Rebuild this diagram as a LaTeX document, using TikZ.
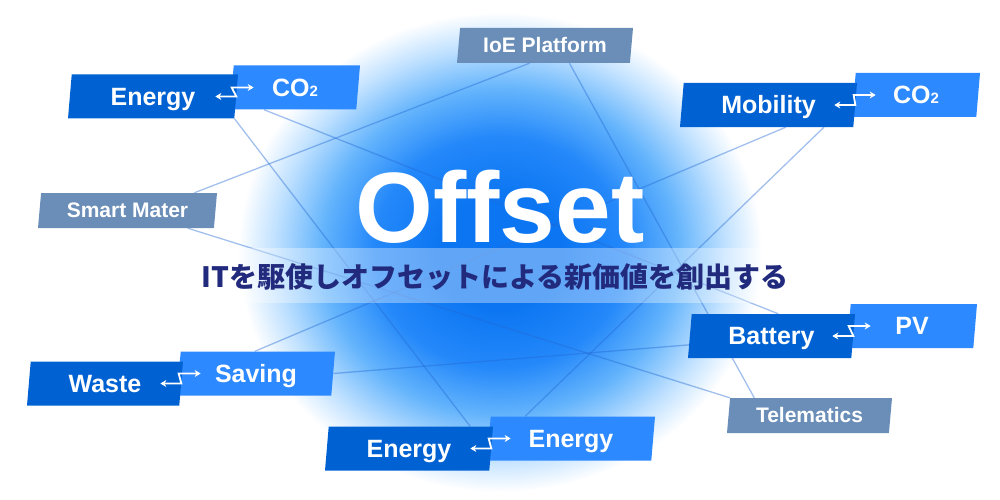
\documentclass[tikz,border=0pt]{standalone}
\usepackage{fontspec}
\setmainfont{Liberation Sans}
\newfontfamily\jpfont{Noto Sans CJK JP}
\usetikzlibrary{shapes.geometric,arrows.meta,calc}
\definecolor{hubblue}{RGB}{0,98,210}
\definecolor{spokeblue}{RGB}{45,137,255}
\definecolor{tagblue}{RGB}{106,142,184}
\definecolor{glowblue}{RGB}{12,118,242}
\definecolor{glowdeep}{RGB}{36,136,250}
\definecolor{glowmid}{RGB}{100,180,252}
\definecolor{glowpale}{RGB}{192,225,255}
\definecolor{inkblue}{RGB}{33,42,124}
\definecolor{linkblue}{RGB}{35,105,212}
\pgfdeclareradialshading{halo}{\pgfpoint{0bp}{0bp}}{color(0bp)=(glowblue); color(6bp)=(glowblue); color(12bp)=(glowdeep); color(17bp)=(glowmid); color(21.5bp)=(glowpale); color(25bp)=(white); color(50bp)=(white)}
\pgfdeclarelayer{halo}
\pgfdeclarelayer{links}
\pgfsetlayers{halo,links,main}

\begin{document}
\begin{tikzpicture}[x=1pt,y=-1pt,
	tile/.style={trapezium,trapezium left angle=78,trapezium right angle=102,trapezium stretches body,inner sep=0pt,minimum height=44pt,text=white,text height=17.5pt,text depth=0pt,font=\bfseries\fontsize{25}{25}\selectfont},
	hub/.style={tile,fill=hubblue},
	spoke/.style={tile,fill=spokeblue},
	tag/.style={tile,fill=tagblue,minimum height=35pt,text height=14.5pt,font=\bfseries\fontsize{21}{21}\selectfont},
	link/.style={linkblue,line width=1.3pt,opacity=.42},
	swap/.style={white,line width=1.8pt,{Stealth[length=6pt,width=7pt]}-{Stealth[length=6pt,width=7pt]}}]
	\useasboundingbox (0,0) rectangle (1000,500);
	\begin{pgfonlayer}{halo}
		\shade[shading=halo] (500,252) ellipse (262 and 240);
	\end{pgfonlayer}
	\fill[white,opacity=.35] (185,248) rectangle (815,303);
	
	\node[tag,minimum width=176pt] (ioe) at (545,45.5) {IoE Platform};
	\node[tag,minimum width=179pt] (sma) at (127.5,210.5) {Smart Mater};
	\node[tag,minimum width=165pt] (tel) at (809.5,415.5) {Telematics};
	
	\node[spoke,minimum width=130pt] (coA) at (295,87.5) {CO{\fontsize{15}{15}\selectfont 2}};
	\node[hub,minimum width=170pt] (enA) at (153,96.5) {Energy};
	\node[spoke,minimum width=128pt] (coB) at (916,95) {CO{\fontsize{15}{15}\selectfont 2}};
	\node[hub,minimum width=177pt] (mob) at (768.5,105) {Mobility};
	\node[spoke,minimum width=158pt] (sav) at (256,373.5) {Saving};
	\node[hub,minimum width=156pt] (was) at (105,383.5) {Waste};
	\node[spoke,minimum width=168pt] (enC) at (571,438.5) {Energy};
	\node[hub,minimum width=168pt] (enB) at (409,448.5) {Energy};
	\node[spoke,minimum width=130pt] (pv) at (912,326) {PV};
	\node[hub,minimum width=167pt] (bat) at (771.5,336) {Battery};
	
	\draw[swap] ([xshift=-21pt]enA.east) -- (enA.east) -- (coA.west) -- ([xshift=22pt]coA.west);
	\draw[swap] ([xshift=-21pt]mob.east) -- (mob.east) -- (coB.west) -- ([xshift=22pt]coB.west);
	\draw[swap] ([xshift=-21pt]was.east) -- (was.east) -- (sav.west) -- ([xshift=22pt]sav.west);
	\draw[swap] ([xshift=-21pt]enB.east) -- (enB.east) -- (enC.west) -- ([xshift=22pt]enC.west);
	\draw[swap] ([xshift=-21pt]bat.east) -- (bat.east) -- (pv.west) -- ([xshift=22pt]pv.west);
	
	\node[font=\bfseries\fontsize{100}{100}\selectfont,text=white,anchor=base,inner sep=0pt] (title) at (500,242) {Offset};
	\node[font=\jpfont\bfseries\fontsize{28}{28}\selectfont,text=inkblue,anchor=base,inner sep=0pt] (motto) at (495,287) {ITを駆使しオフセットによる新価値を創出する};
	
	\begin{pgfonlayer}{links}
		\draw[link] (enA.bottom right corner) -- ($(enB.top left corner)!.86!(enB.top right corner)$);
		\draw[link] ($(coA.bottom left corner)!.27!(coA.bottom right corner)$) -- ($(bat.top left corner)!.53!(bat.top right corner)$);
		\draw[link] ($(ioe.bottom left corner)!.42!(ioe.bottom right corner)$) -- ($(sma.top left corner)!.87!(sma.top right corner)$);
		\draw[link] ($(ioe.bottom left corner)!.65!(ioe.bottom right corner)$) -- ($(tel.top left corner)!.15!(tel.top right corner)$);
		\draw[link] ($(sma.bottom left corner)!.85!(sma.bottom right corner)$) -- (tel.top left corner);
		\draw[link] ($(mob.bottom left corner)!.61!(mob.bottom right corner)$) -- ($(sav.top left corner)!.48!(sav.top right corner)$);
		\draw[link] ($(mob.bottom left corner)!.83!(mob.bottom right corner)$) -- ($(enC.top left corner)!.21!(enC.top right corner)$);
		\draw[link] (sav.east) -- ($(bat.bottom left corner)!.3!(bat.top left corner)$);
	\end{pgfonlayer}
\end{tikzpicture}
\end{document}
